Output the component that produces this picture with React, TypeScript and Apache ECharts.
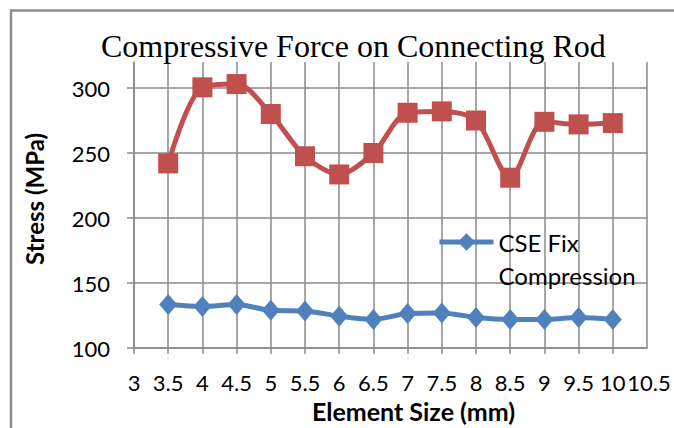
import React, { useEffect, useRef } from "react";
import * as echarts from "echarts";

const elementSizes = [3.5, 4, 4.5, 5, 5.5, 6, 6.5, 7, 7.5, 8, 8.5, 9, 9.5, 10];
const cseFixCompression = [133.5, 132, 133.5, 129, 128.5, 124.5, 122, 126.5, 127, 123.5, 122, 122, 123.5, 122];
const secondSeries = [242, 300.5, 303, 280, 247.5, 233.5, 250, 281, 282, 275, 231, 274, 272, 273];

const titleText = "Compressive Force on Connecting Rod";
const xAxisName = "Element Size (mm)";
const yAxisName = "Stress (MPa)";
const legendName = "CSE Fix Compression";
const xMin = 3;
const xMax = 10.5;
const xStep = 0.5;

export default function App() {
  const ref = useRef<HTMLDivElement>(null);
  useEffect(() => {
    document.body.style.margin = "0";
    if (!ref.current) return;
    const chart = echarts.init(ref.current, null, { renderer: "svg" });
    const gridColor = "#8a8a8a";
    const labelFont = "Lato";
    const tickFontSize = 22;
    const gridBox = { left: 134, right: 27, top: 62, bottom: 80 };
    chart.setOption({
      animation: false,
      backgroundColor: "#ffffff",
      title: {
        text: titleText,
        left: 101,
        top: 30,
        padding: 0,
        textStyle: {
          fontFamily: "Liberation Serif",
          fontSize: 32,
          fontWeight: "normal",
          color: "#000",
        },
      },
      graphic: [
        {
          type: "rect",
          shape: { x: 11, y: 10.5, width: 700, height: 500 },
          style: { fill: "none", stroke: "#8c8c8c", lineWidth: 2.5 },
          silent: true,
        },
      ],
      legend: {
        data: [legendName],
        left: 437,
        top: 192.5,
        padding: 0,
        itemWidth: 54,
        itemHeight: 22,
        lineStyle: { width: 5 },
        formatter: () => " \nCSE Fix\nCompression",
        textStyle: {
          fontFamily: labelFont,
          fontSize: 24,
          color: "#000",
          lineHeight: 33,
        },
      },
      grid: [
        { ...gridBox },
        { ...gridBox },
      ],
      xAxis: [
        {
          type: "value",
          gridIndex: 0,
          min: xMin,
          max: xMax,
          interval: xStep,
          name: xAxisName,
          nameLocation: "middle",
          nameGap: 50,
          nameTextStyle: {
            fontFamily: labelFont,
            fontSize: 25,
            fontWeight: "bold",
            color: "#000",
            padding: [0, 0, 0, 46],
          },
          axisLine: { show: true, lineStyle: { color: gridColor, width: 1.5 } },
          axisTick: { show: true, length: 6, lineStyle: { color: gridColor, width: 1.5 } },
          axisLabel: {
            fontFamily: labelFont,
            fontSize: tickFontSize,
            color: "#000",
            margin: 23,
            showMinLabel: true,
            showMaxLabel: false,
          },
          splitLine: { show: true, lineStyle: { color: gridColor, width: 1.5 } },
        },
        {
          type: "value",
          gridIndex: 1,
          position: "bottom",
          min: xMin,
          max: xMax,
          interval: xStep,
          axisLine: { show: false },
          axisTick: { show: false },
          splitLine: { show: false },
          axisLabel: {
            fontFamily: labelFont,
            fontSize: tickFontSize,
            color: "#000",
            margin: 23,
            padding: [0, 0, 0, 4],
            showMaxLabel: true,
            formatter: (v: number) => (v === xMax ? String(v) : ""),
          },
        },
      ],
      yAxis: [
        {
          type: "value",
          gridIndex: 0,
          min: 100,
          max: 320,
          interval: 50,
          name: yAxisName,
          nameLocation: "middle",
          nameGap: 88,
          nameTextStyle: {
            fontFamily: labelFont,
            fontSize: 24,
            fontWeight: "bold",
            color: "#000",
            padding: [0, 0, 0, 12],
          },
          axisLine: { show: true, lineStyle: { color: gridColor, width: 1.5 } },
          axisTick: { show: true, length: 7, lineStyle: { color: gridColor, width: 1.5 } },
          axisLabel: {
            fontFamily: labelFont,
            fontSize: tickFontSize,
            color: "#000",
            margin: 24,
            showMaxLabel: false,
          },
          splitLine: { show: true, showMaxLine: false, lineStyle: { color: gridColor, width: 1.5 } },
        },
        {
          type: "value",
          gridIndex: 1,
          min: 100,
          max: 320,
          interval: 50,
          show: false,
        },
      ],
      series: [
        {
          name: legendName,
          type: "line",
          xAxisIndex: 0,
          yAxisIndex: 0,
          data: elementSizes.map((x, i) => [x, cseFixCompression[i]]),
          smooth: 0.3,
          symbol: "diamond",
          symbolSize: [18, 21],
          lineStyle: { color: "#4F81BD", width: 5 },
          itemStyle: { color: "#4F81BD" },
          z: 3,
        },
        {
          name: "Second",
          type: "line",
          xAxisIndex: 0,
          yAxisIndex: 0,
          data: elementSizes.map((x, i) => [x, secondSeries[i]]),
          smooth: 0.3,
          symbol: "rect",
          symbolSize: 20,
          lineStyle: { color: "#C0504D", width: 5 },
          itemStyle: { color: "#C0504D" },
          z: 3,
        },
      ],
    });
    return () => chart.dispose();
  }, []);
  return <div ref={ref} style={{ width: 674, height: 428 }} />;
}
